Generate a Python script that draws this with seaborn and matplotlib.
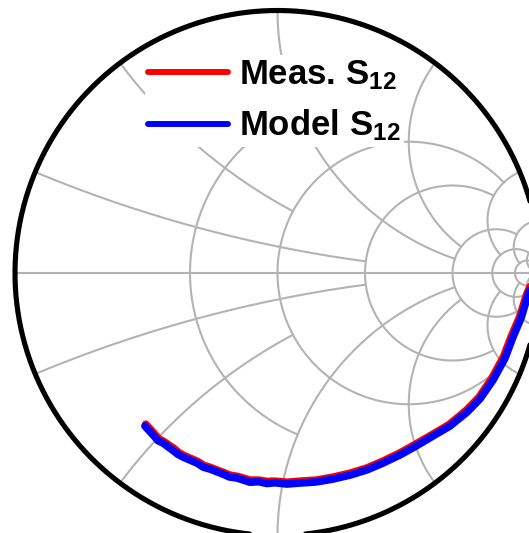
import numpy as np
import pandas as pd
import matplotlib
matplotlib.use("Agg")
import matplotlib.pyplot as plt
import seaborn as sns
from matplotlib.lines import Line2D

sns.set_theme(style="white")
plt.rcParams["font.family"] = ["Liberation Sans", "DejaVu Sans"]
plt.rcParams["font.weight"] = "bold"
plt.rcParams["text.color"] = "black"
plt.rcParams["mathtext.fontset"] = "custom"
plt.rcParams["mathtext.rm"] = "Liberation Sans:bold"
plt.rcParams["mathtext.it"] = "Liberation Sans:bold"
plt.rcParams["mathtext.bf"] = "Liberation Sans:bold"

# Series labels and colours
series_names = ["Meas. S$_{12}$", "Model S$_{12}$"]
series_colors = ["#ff0000", "#0000ff"]

# Reflection-plane trajectories (real, imaginary)
meas_re = [0.972, 0.949, 0.922, 0.891, 0.861, 0.816, 0.767, 0.718, 0.654, 0.590,
           0.526, 0.465, 0.401, 0.340, 0.275, 0.210, 0.147, 0.086, 0.036, -0.010,
           -0.040, -0.072, -0.104, -0.152, -0.181, -0.206, -0.255, -0.280, -0.304,
           -0.357, -0.376, -0.395, -0.433, -0.452, -0.470, -0.502]
meas_im = [-0.028, -0.082, -0.168, -0.240, -0.319, -0.402, -0.474, -0.524, -0.577, -0.615,
           -0.652, -0.686, -0.717, -0.743, -0.763, -0.778, -0.789, -0.793, -0.797, -0.793,
           -0.794, -0.789, -0.789, -0.775, -0.770, -0.760, -0.741, -0.733, -0.718,
           -0.695, -0.684, -0.668, -0.642, -0.632, -0.611, -0.576]
model_re = [0.977, 0.954, 0.928, 0.897, 0.867, 0.821, 0.771, 0.722, 0.657, 0.592,
            0.528, 0.467, 0.402, 0.341, 0.276, 0.211, 0.147, 0.086, 0.036, -0.010,
            -0.040, -0.072, -0.105, -0.154, -0.183, -0.208, -0.257, -0.282, -0.307,
            -0.360, -0.379, -0.398, -0.436, -0.455, -0.474, -0.505]
model_im = [-0.030, -0.084, -0.171, -0.244, -0.324, -0.408, -0.480, -0.530, -0.583, -0.621,
            -0.659, -0.693, -0.724, -0.750, -0.770, -0.785, -0.796, -0.800, -0.804, -0.799,
            -0.802, -0.795, -0.797, -0.781, -0.777, -0.766, -0.747, -0.740, -0.724,
            -0.701, -0.691, -0.676, -0.648, -0.639, -0.617, -0.583]

# Smith grid: constant-resistance circles and constant-reactance arcs,
# each cut off at the given limit of the other coordinate
resistance_values = [0.5, 1, 2, 5, 10, 20, 50]
resistance_reach = [1, 5, 5, 10, 20, 50, 200]
reactance_values = [0.2, 0.5, 1, 2, 5, 10, 20]
reactance_reach = [2, 1, 5, 5, 10, 20, 50]

grid_color = "#b3b3b3"


def to_gamma(z):
    return (z - 1) / (z + 1)


fig = plt.figure(figsize=(5.29, 5.33), dpi=100)
ax = fig.add_axes([0, 0, 1, 1])
unit = 262.5
x0 = -1 - 15 / unit
y0 = -260 / unit
ax.set_xlim(x0, x0 + 529 / unit)
ax.set_ylim(y0, y0 + 533 / unit)
ax.axis("off")

u = np.linspace(-1, 1, 801)
for r, xm in zip(resistance_values, resistance_reach):
    xs = np.tan(u * np.arctan(xm))
    g = to_gamma(r + 1j * xs)
    ax.plot(g.real, g.imag, color=grid_color, lw=1.5, zorder=1)

v = np.linspace(0, 1, 801)
for xv, rm in zip(reactance_values, reactance_reach):
    rs = np.tan(v * np.arctan(rm))
    for sgn in (1, -1):
        g = to_gamma(rs + 1j * sgn * xv)
        ax.plot(g.real, g.imag, color=grid_color, lw=1.5, zorder=1)

ax.plot([-1, 1], [0, 0], color=grid_color, lw=1.5, zorder=1)

th = np.linspace(0, 2 * np.pi, 1200)
ax.plot(np.cos(th), np.sin(th), color="black", lw=3.7, zorder=4)

df = pd.concat([
    pd.DataFrame({"re": meas_re, "im": meas_im, "series": series_names[0]}),
    pd.DataFrame({"re": model_re, "im": model_im, "series": series_names[1]}),
])
sns.lineplot(data=df, x="re", y="im", hue="series", hue_order=series_names,
             palette=series_colors, sort=False, estimator=None, units="series",
             lw=5.5, legend=False, ax=ax, zorder=3, solid_capstyle="round",
             solid_joinstyle="round")

handles = [Line2D([], [], color=c, lw=4.3, solid_capstyle="round") for c in series_colors]
leg = ax.legend(handles, series_names, loc="upper left",
                bbox_to_anchor=(145 / 529, 1 - 55 / 533), bbox_transform=fig.transFigure,
                frameon=True, facecolor="white", edgecolor="none", framealpha=1,
                fancybox=False, prop={"size": 25, "weight": "bold"},
                handlelength=2.3, handletextpad=0.3, labelspacing=0.45,
                borderpad=0.1, borderaxespad=0)
for t in leg.get_texts():
    t.set_color("black")
leg.set_zorder(6)

fig.savefig("out.png", dpi=100)
